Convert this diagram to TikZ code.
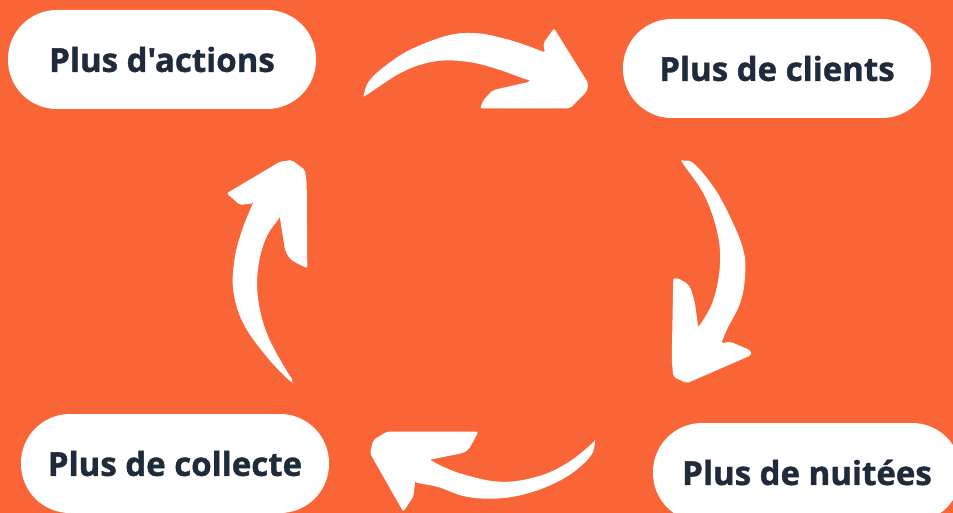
\documentclass[tikz,border=0pt]{standalone}
\usepackage{fontspec}
\setmainfont{Open Sans}[Ligatures=TeXOff, BoldFeatures={FakeBold=1.2}]
\definecolor{bgorange}{HTML}{FA6537}
\definecolor{navy}{HTML}{1F2A3B}
\begin{document}
\begin{tikzpicture}[x=1pt,y=-1pt,
  pill/.style={fill=white, rounded corners=49pt, minimum width=308pt, minimum height=99pt, inner sep=0pt,
    font=\fontsize{33}{38}\selectfont\bfseries, text=navy},
  arrowshape/.style={fill=white, rounded corners=2pt}]
\useasboundingbox (0,0) rectangle (953,513);
\clip (0,0) rectangle (953,513);
\fill[bgorange] (0,0) rectangle (953,513);

\node[pill] (actions) at (162,59.5) {Plus d'actions};
\node[pill] (clients) at (777,68.5) {Plus de clients};
\node[pill] (collecte) at (175,463.5) {Plus de collecte};
\node[pill] (nuitees) at (807,472.5) {Plus de nuitées};

% top arrow
\fill[arrowshape] (363.3,98.3)
  -- plot[smooth,tension=0.6] coordinates {(363.3,98.3)(370,80)(393.3,60)(416.7,46.7)(450,35)(476.7,33.3)(503.3,38.3)(530,46.7)(545,53.3)}
  -- (543.3,43.3) -- (554,28.3)
  -- (588.3,83.3) -- (586.7,91.7) -- (570,108.3) -- (480,108.3)
  .. controls (484,99) .. (493.3,90) -- (530,81.7)
  -- plot[smooth,tension=0.6] coordinates {(530,81.7)(500,70)(466.7,61.7)(433.3,61.7)(400,73.3)(363.3,98.3)}
  -- cycle;

% right arrow
\fill[arrowshape] (681.7,161.7)
  -- plot[smooth,tension=0.6] coordinates {(681.7,161.7)(693.3,163.3)(713.3,186.7)(730,216.7)(743.3,250)(745,276.7)(740,303.3)(726.7,330)(721.7,343.3)}
  -- (730,341.7) -- (750,350) -- (751.7,355)
  -- (686.7,383.3) -- (673.3,376.7) -- (671.7,360) -- (673.3,278.3) -- (678.3,278.3)
  .. controls (690,285) .. (695,303.3) -- (698.3,328.3)
  -- plot[smooth,tension=0.6] coordinates {(698.3,328.3)(713.3,300)(720,263.3)(716.7,230)(703.3,193.3)(681.7,163.3)}
  -- cycle;

% bottom arrow
\fill[arrowshape] (595,441.7)
  -- plot[smooth,tension=0.6] coordinates {(595,441.7)(590,456.7)(566.7,476.7)(533.3,491.7)(500,498.3)(466.7,496.7)(436.7,486.7)(415,483.3)}
  -- (413.3,496.7) -- (403.3,511.7)
  -- (370,453.3) -- (373.3,440) -- (386.7,431.7) -- (478.3,431.7)
  .. controls (468,452) .. (453.3,455) -- (428.3,460)
  -- plot[smooth,tension=0.6] coordinates {(428.3,460)(460,473.3)(500,481.7)(536.7,476.7)(566.7,463.3)(595,441.7)}
  -- cycle;

% left arrow
\fill[arrowshape] (293.3,385)
  -- plot[smooth,tension=0.6] coordinates {(293.3,385)(266.7,356.7)(243.3,323.3)(233.3,290)(235,256.7)(243.3,226.7)(253.3,203.3)}
  -- (240,205) -- (226.7,193.3)
  -- (280,161.7) -- (291.7,160) -- (305,170) -- (306.7,183.3) -- (307.3,268.3)
  .. controls (290,260) .. (285,250) -- (280,218.3)
  -- plot[smooth,tension=0.6] coordinates {(280,218.3)(266.7,236.7)(258.3,266.7)(258.3,300)(268.3,336.7)(291.7,380)}
  -- cycle;
\end{tikzpicture}
\end{document}
